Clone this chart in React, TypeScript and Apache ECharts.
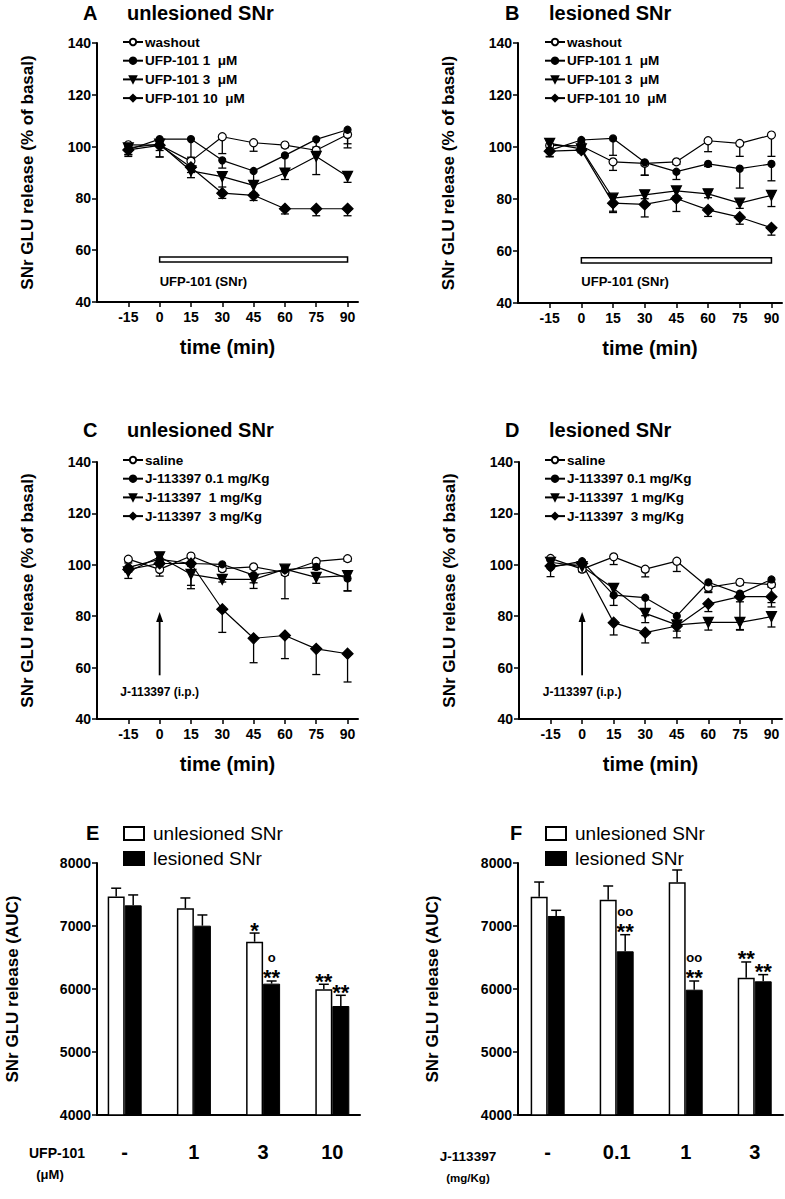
import React, { useEffect, useRef } from "react";
import * as echarts from "echarts";

const FONT = '"Liberation Sans", Arial, Helvetica, sans-serif';

// ---------- time course panels ----------
const times = [-15, 0, 15, 30, 45, 60, 75, 90];
const timeTicks = [-15, 0, 15, 30, 45, 60, 75, 90];

const ufpNames = ["washout", "UFP-101 1  μM", "UFP-101 3  μM", "UFP-101 10  μM"];
const jNames = ["saline", "J-113397 0.1 mg/Kg", "J-113397  1 mg/Kg", "J-113397  3 mg/Kg"];

// Panel A (unlesioned, UFP-101 in SNr)
const aWashout = [100.7, 100.6, 94.4, 103.8, 101.5, 100.6, 98.6, 104.7];
const aWashoutErr = [1.5, 4.6, 2, 6.5, 3.3, 1, 1.5, 3.6];
const aUfp1 = [98.8, 102.9, 102.9, 94.7, 90.6, 96.6, 102.8, 106.5];
const aUfp1Err = [2, 1, 7, 3, 4, 6, 3, 7];
const aUfp3 = [99.5, 101, 90.6, 88.4, 85, 89.8, 96.2, 88.5];
const aUfp3Err = [2.5, 5, 2.6, 4, 3, 2.5, 7, 2.3];
const aUfp10 = [98.7, 100.5, 92, 82, 81.2, 76, 76, 76];
const aUfp10Err = [2.5, 2, 2, 2, 2, 2, 2.7, 2.7];

// Panel B (lesioned, UFP-101 in SNr)
const bWashout = [100.6, 100.4, 94.3, 93.7, 94.3, 102.4, 101.4, 104.6];
const bWashoutErr = [2, 1, 3.3, 4.5, 1, 4.2, 5, 8.2];
const bUfp1 = [98.7, 102.7, 103.3, 94.1, 90.5, 93.5, 91.7, 93.5];
const bUfp1Err = [2.5, 1, 6.5, 5, 3, 1, 7.5, 6.5];
const bUfp3 = [101.4, 99.3, 80.3, 81.6, 83.1, 82, 78.4, 81.4];
const bUfp3Err = [3, 1, 5, 1.5, 2, 1.5, 2, 4.3];
const bUfp10 = [98.4, 98.8, 78.4, 77.9, 80.2, 75.8, 73, 68.9];
const bUfp10Err = [2, 1, 3.6, 4.8, 5, 2.5, 2.7, 2.8];

// Panel C (unlesioned, J-113397 i.p.)
const cSaline = [102.2, 98.2, 103.4, 98.5, 99.2, 97, 101.3, 102.4];
const cSalineErr = [1.5, 2.6, 1, 1, 1, 1, 1, 1];
const cJ01 = [99, 102.1, 100.5, 100.2, 96, 98, 99.2, 94.7];
const cJ01Err = [1.5, 1, 1, 1, 3, 1, 1, 4.8];
const cJ1 = [97.3, 103.1, 96.3, 94.3, 94.3, 98.3, 95.1, 95.8];
const cJ1Err = [2.6, 1.5, 5.6, 1, 3.5, 11.5, 2.3, 6];
const cJ3 = [98.2, 100.5, 100.5, 82.7, 71.4, 72.5, 67.3, 65.4];
const cJ3Err = [1, 1, 8.5, 9, 9.5, 9, 10, 11];

// Panel D (lesioned, J-113397 i.p.)
const dSaline = [102.5, 98.3, 103.1, 98.3, 101.4, 91.2, 93.2, 92.3];
const dSalineErr = [1, 1, 3, 3, 4, 2, 1, 1];
const dJ01 = [99, 101.4, 88.2, 87.2, 80.1, 93.2, 88.8, 94.3];
const dJ01Err = [3.6, 1, 4, 7, 3, 3.7, 14, 9];
const dJ1 = [101, 99.3, 90.8, 81.1, 76.6, 77.6, 77.6, 79.8];
const dJ1Err = [1, 1, 3, 3.6, 5, 3, 3, 4];
const dJ3 = [99.5, 100.5, 77.5, 73.6, 76.2, 84.8, 87.6, 87.6];
const dJ3Err = [1, 1, 4.8, 4, 2, 3, 2, 4];

// treatment markers (data coordinates)
const ufpSpan = [0, 90];
const ufpBarY = [55.4, 57.4];
const ufpLabelY = 48.1;
const ufpLabel = "UFP-101 (SNr)";
const jArrow = [0, 57, 81.6];
const jLabelY = 50.6;
const jLabel = "J-113397 (i.p.)";

// ---------- AUC bar panels ----------
const barPos = [0, 1, 2, 3];
const eCats = ["-", "1", "3", "10"];
const eUnles = [7470, 7280, 6750, 5995];
const eUnlesErr = [130, 165, 138, 80];
const eLes = [7328, 7005, 6085, 5730];
const eLesErr = [165, 170, 42, 170];
const eUnlesStar = ["", "", "*", "**"];
const eLesStar = ["", "", "**", "**"];
const eLesCircle = ["", "", "o", ""];

const fCats = ["-", "0.1", "1", "3"];
const fUnles = [7466, 7418, 7693, 6180];
const fUnlesErr = [232, 217, 196, 249];
const fLes = [7159, 6598, 5989, 6122];
const fLesErr = [90, 264, 138, 106];
const fUnlesStar = ["", "", "", "**"];
const fLesStar = ["", "**", "**", "**"];
const fLesCircle = ["", "oo", "oo", ""];

const groupNames = ["unlesioned SNr", "lesioned SNr"];

const markerStyles = [
  { symbol: "circle", size: 8, fill: "#fff", rotate: 0 },
  { symbol: "circle", size: 7, fill: "#000", rotate: 0 },
  { symbol: "triangle", size: 10, fill: "#000", rotate: 180 },
  { symbol: "diamond", size: 11, fill: "#000", rotate: 0 },
];

const axisColor = "#000";
const plain = (v: number) => String(v);

function lineXAxis(gi: number) {
  return {
    type: "value",
    gridIndex: gi,
    min: -30,
    max: 95,
    axisLine: { show: true, onZero: false, lineStyle: { color: axisColor, width: 2 } },
    axisTick: { show: true, customValues: timeTicks, length: 5, lineStyle: { color: axisColor, width: 1.5 } },
    axisLabel: {
      customValues: timeTicks,
      formatter: plain,
      margin: 8,
      fontSize: 14,
      fontWeight: "bold",
      fontFamily: FONT,
      color: "#000",
    },
    splitLine: { show: false },
    name: "time (min)",
    nameLocation: "middle",
    nameGap: 35,
    nameTextStyle: { fontSize: 20, fontWeight: "bold", fontFamily: FONT, color: "#000" },
  };
}

function lineYAxis(gi: number) {
  return {
    type: "value",
    gridIndex: gi,
    min: 40,
    max: 140,
    interval: 20,
    axisLine: { show: true, onZero: false, lineStyle: { color: axisColor, width: 2 } },
    axisTick: { show: true, length: 5, lineStyle: { color: axisColor, width: 1.5 } },
    axisLabel: { formatter: plain, margin: 6, fontSize: 14, fontWeight: "bold", fontFamily: FONT, color: "#000" },
    splitLine: { show: false },
    name: "SNr GLU release (% of basal)",
    nameLocation: "middle",
    nameGap: 61,
    nameTextStyle: { fontSize: 17, fontWeight: "bold", fontFamily: FONT, color: "#000" },
  };
}

function barXAxis(gi: number, cats: string[], min: number, max: number) {
  return {
    type: "value",
    gridIndex: gi,
    min,
    max,
    axisLine: { show: true, onZero: false, lineStyle: { color: axisColor, width: 2 } },
    axisTick: { show: false },
    axisLabel: {
      customValues: barPos,
      formatter: (v: number) => cats[Math.round(v)] ?? "",
      margin: 27,
      fontSize: 20,
      fontWeight: "bold",
      fontFamily: FONT,
      color: "#000",
    },
    splitLine: { show: false },
  };
}

function barYAxis(gi: number, gap: number) {
  return {
    type: "value",
    gridIndex: gi,
    min: 4000,
    max: 8000,
    interval: 1000,
    axisLine: { show: true, onZero: false, lineStyle: { color: axisColor, width: 2 } },
    axisTick: { show: true, length: 5, lineStyle: { color: axisColor, width: 1.5 } },
    axisLabel: { formatter: plain, margin: 6, fontSize: 14, fontWeight: "bold", fontFamily: FONT, color: "#000" },
    splitLine: { show: false },
    name: "SNr GLU release (AUC)",
    nameLocation: "middle",
    nameGap: gap,
    nameTextStyle: { fontSize: 17, fontWeight: "bold", fontFamily: FONT, color: "#000" },
  };
}

function errorRender(capHalf: number, offsetPx: number) {
  return (params: any, api: any) => {
    const x = api.value(0);
    const y = api.value(1);
    const e = api.value(2);
    const p1 = api.coord([x, y]);
    const p2 = api.coord([x, y - e]);
    const cx = p1[0] + offsetPx;
    return {
      type: "group",
      children: [
        { type: "line", shape: { x1: cx, y1: p1[1], x2: cx, y2: p2[1] }, style: { stroke: "#000", lineWidth: 1.3 } },
        { type: "line", shape: { x1: cx - capHalf, y1: p2[1], x2: cx + capHalf, y2: p2[1] }, style: { stroke: "#000", lineWidth: 1.3 } },
      ],
    };
  };
}

function upErrorRender(capHalf: number, offsetPx: number, stars: string[], circles: string[]) {
  return (params: any, api: any) => {
    const x = api.value(0);
    const y = api.value(1);
    const e = api.value(2);
    const p1 = api.coord([x, y]);
    const p2 = api.coord([x, y + e]);
    const cx = p1[0] + offsetPx;
    const children: any[] = [
      { type: "line", shape: { x1: cx, y1: p1[1], x2: cx, y2: p2[1] }, style: { stroke: "#000", lineWidth: 1.5 } },
      { type: "line", shape: { x1: cx - capHalf, y1: p2[1], x2: cx + capHalf, y2: p2[1] }, style: { stroke: "#000", lineWidth: 1.5 } },
    ];
    const s = stars[params.dataIndex];
    if (s) {
      children.push({
        type: "text",
        x: cx,
        y: p2[1] - 3,
        style: { text: s, fontSize: 22, fontWeight: "bold", fontFamily: FONT, fill: "#000", align: "center", verticalAlign: "middle" },
      });
    }
    const c = circles[params.dataIndex];
    if (c) {
      children.push({
        type: "text",
        x: cx,
        y: p2[1] - 23,
        style: { text: c, fontSize: 13, fontWeight: "bold", fontFamily: FONT, fill: "#000", align: "center", verticalAlign: "middle" },
      });
    }
    return { type: "group", children };
  };
}

function timeSeries(gi: number, names: string[], vals: number[][], errs: number[][]) {
  const out: any[] = [];
  vals.forEach((v, k) => {
    out.push({
      type: "custom",
      name: names[k] + " err",
      xAxisIndex: gi,
      yAxisIndex: gi,
      z: 2,
      silent: true,
      encode: { x: 0, y: 1 },
      data: times.map((t, i) => [t, v[i], errs[k][i]]),
      renderItem: errorRender(4, 0),
    });
  });
  vals.forEach((v, k) => {
    const m = markerStyles[k];
    out.push({
      type: "line",
      name: names[k],
      xAxisIndex: gi,
      yAxisIndex: gi,
      z: 3,
      data: times.map((t, i) => [t, v[i]]),
      symbol: m.symbol,
      symbolSize: m.size,
      symbolRotate: m.rotate,
      showAllSymbol: true,
      itemStyle: { color: m.fill, borderColor: "#000", borderWidth: 1.2 },
      lineStyle: { color: "#000", width: 1.2 },
      emphasis: { disabled: true },
    });
  });
  return out;
}

function treatmentBar(gi: number) {
  return {
    type: "custom",
    xAxisIndex: gi,
    yAxisIndex: gi,
    silent: true,
    encode: { x: [0, 1], y: [2, 3] },
    data: [[ufpSpan[0], ufpSpan[1], ufpBarY[0], ufpBarY[1]]],
    renderItem: (params: any, api: any) => {
      const pA = api.coord([api.value(0), api.value(3)]);
      const pB = api.coord([api.value(1), api.value(2)]);
      const pT = api.coord([api.value(0), ufpLabelY]);
      return {
        type: "group",
        children: [
          {
            type: "rect",
            shape: { x: pA[0], y: pA[1], width: pB[0] - pA[0], height: pB[1] - pA[1] },
            style: { fill: "#fff", stroke: "#000", lineWidth: 1.5 },
          },
          {
            type: "text",
            x: pT[0],
            y: pT[1],
            style: { text: ufpLabel, fontSize: 13, fontWeight: "bold", fontFamily: FONT, fill: "#000", align: "left", verticalAlign: "middle" },
          },
        ],
      };
    },
  };
}

function injectionArrow(gi: number) {
  return {
    type: "custom",
    xAxisIndex: gi,
    yAxisIndex: gi,
    silent: true,
    encode: { x: 0, y: [1, 2] },
    data: [jArrow],
    renderItem: (params: any, api: any) => {
      const pBot = api.coord([api.value(0), api.value(1)]);
      const pTip = api.coord([api.value(0), api.value(2)]);
      const pT = api.coord([api.value(0), jLabelY]);
      return {
        type: "group",
        children: [
          { type: "line", shape: { x1: pBot[0], y1: pBot[1], x2: pTip[0], y2: pTip[1] + 8 }, style: { stroke: "#000", lineWidth: 1.8 } },
          {
            type: "polygon",
            shape: { points: [[pTip[0], pTip[1]], [pTip[0] - 3.5, pTip[1] + 10], [pTip[0] + 3.5, pTip[1] + 10]] },
            style: { fill: "#000" },
          },
          {
            type: "text",
            x: pT[0],
            y: pT[1],
            style: { text: jLabel, fontSize: 12, fontWeight: "bold", fontFamily: FONT, fill: "#000", align: "center", verticalAlign: "middle" },
          },
        ],
      };
    },
  };
}

function barSeries(gi: number, unles: number[], unlesErr: number[], les: number[], lesErr: number[],
  uStar: string[], lStar: string[], lCircle: string[]) {
  const none = barPos.map(() => "");
  return [
    {
      type: "bar",
      name: groupNames[0],
      xAxisIndex: gi,
      yAxisIndex: gi,
      data: barPos.map((p, i) => [p, unles[i]]),
      barWidth: 17,
      barGap: "0%",
      itemStyle: { color: "#fff", borderColor: "#000", borderWidth: 1.5 },
      emphasis: { disabled: true },
    },
    {
      type: "bar",
      name: groupNames[1],
      xAxisIndex: gi,
      yAxisIndex: gi,
      data: barPos.map((p, i) => [p, les[i]]),
      barWidth: 17,
      barGap: "0%",
      itemStyle: { color: "#000", borderColor: "#000", borderWidth: 1 },
      emphasis: { disabled: true },
    },
    {
      type: "custom",
      xAxisIndex: gi,
      yAxisIndex: gi,
      silent: true,
      z: 3,
      encode: { x: 0, y: 1 },
      data: barPos.map((p, i) => [p, unles[i], unlesErr[i]]),
      renderItem: upErrorRender(5, -8.5, uStar, none),
    },
    {
      type: "custom",
      xAxisIndex: gi,
      yAxisIndex: gi,
      silent: true,
      z: 3,
      encode: { x: 0, y: 1 },
      data: barPos.map((p, i) => [p, les[i], lesErr[i]]),
      renderItem: upErrorRender(5, 8.5, lStar, lCircle),
    },
  ];
}

function lineLegend(names: string[], left: number, top: number) {
  return {
    data: names,
    left,
    top,
    orient: "vertical",
    itemWidth: 20,
    itemHeight: 8,
    itemGap: 4.7,
    padding: 0,
    selectedMode: false,
    textStyle: { fontSize: 13.5, fontWeight: "bold", fontFamily: FONT, color: "#000", padding: [0, 0, 0, -3] },
  };
}

function barLegend(left: number, top: number) {
  return {
    data: groupNames,
    left,
    top,
    orient: "vertical",
    icon: "rect",
    itemWidth: 20,
    itemHeight: 13,
    itemGap: 6,
    padding: 0,
    selectedMode: false,
    textStyle: { fontSize: 19, fontFamily: FONT, color: "#000", padding: [0, 0, 0, 4] },
  };
}

function txt(text: string, x: number, y: number, size: number, align = "left", weight = "bold") {
  return {
    type: "text",
    x,
    y,
    silent: true,
    style: { text, fontSize: size, fontWeight: weight, fontFamily: FONT, fill: "#000", align, verticalAlign: "middle" },
  };
}

export default function App() {
  const ref = useRef<HTMLDivElement>(null);
  useEffect(() => {
    if (!ref.current) return;
    const chart = echarts.init(ref.current, null, { renderer: "svg" });
    const option: any = {
      animation: false,
      backgroundColor: "#fff",
      grid: [
        { left: 97, top: 43, width: 261, height: 259 },
        { left: 518, top: 43, width: 264, height: 260 },
        { left: 97, top: 462, width: 261, height: 257 },
        { left: 519, top: 462, width: 263, height: 257 },
        { left: 97, top: 863, width: 263, height: 252 },
        { left: 518, top: 863, width: 265, height: 252 },
      ],
      xAxis: [
        lineXAxis(0), lineXAxis(1), lineXAxis(2), lineXAxis(3),
        barXAxis(4, eCats, -0.4, 3.4), barXAxis(5, fCats, -0.43, 3.41),
      ],
      yAxis: [
        lineYAxis(0), lineYAxis(1), lineYAxis(2), lineYAxis(3),
        barYAxis(4, 76), barYAxis(5, 77),
      ],
      legend: [
        lineLegend(ufpNames, 122, 35),
        lineLegend(ufpNames, 544, 35),
        lineLegend(jNames, 122, 453),
        lineLegend(jNames, 544, 453),
        barLegend(123, 824),
        barLegend(545, 824),
      ],
      graphic: [
        txt("A", 83, 13, 20),
        txt("unlesioned SNr", 127, 13, 20),
        txt("B", 505, 13, 20),
        txt("lesioned SNr", 549, 13, 20),
        txt("C", 83, 430, 20),
        txt("unlesioned SNr", 127, 430, 20),
        txt("D", 505, 430, 20),
        txt("lesioned SNr", 549, 430, 20),
        txt("E", 86, 833, 20),
        txt("F", 510, 833, 20),
        txt("UFP-101", 57, 1153, 14, "center"),
        txt("(μM)", 50, 1174, 13, "center"),
        txt("J-113397", 468, 1156, 13.5, "center"),
        txt("(mg/Kg)", 468, 1178, 11.5, "center"),
      ],
      series: [
        ...timeSeries(0, ufpNames, [aWashout, aUfp1, aUfp3, aUfp10], [aWashoutErr, aUfp1Err, aUfp3Err, aUfp10Err]),
        ...timeSeries(1, ufpNames, [bWashout, bUfp1, bUfp3, bUfp10], [bWashoutErr, bUfp1Err, bUfp3Err, bUfp10Err]),
        ...timeSeries(2, jNames, [cSaline, cJ01, cJ1, cJ3], [cSalineErr, cJ01Err, cJ1Err, cJ3Err]),
        ...timeSeries(3, jNames, [dSaline, dJ01, dJ1, dJ3], [dSalineErr, dJ01Err, dJ1Err, dJ3Err]),
        treatmentBar(0),
        treatmentBar(1),
        injectionArrow(2),
        injectionArrow(3),
        ...barSeries(4, eUnles, eUnlesErr, eLes, eLesErr, eUnlesStar, eLesStar, eLesCircle),
        ...barSeries(5, fUnles, fUnlesErr, fLes, fLesErr, fUnlesStar, fLesStar, fLesCircle),
      ],
    };
    chart.setOption(option);
    return () => chart.dispose();
  }, []);
  return (
    <div
      ref={ref}
      style={{ position: "absolute", left: 0, top: 0, width: 785, height: 1199, background: "#fff" }}
    />
  );
}
